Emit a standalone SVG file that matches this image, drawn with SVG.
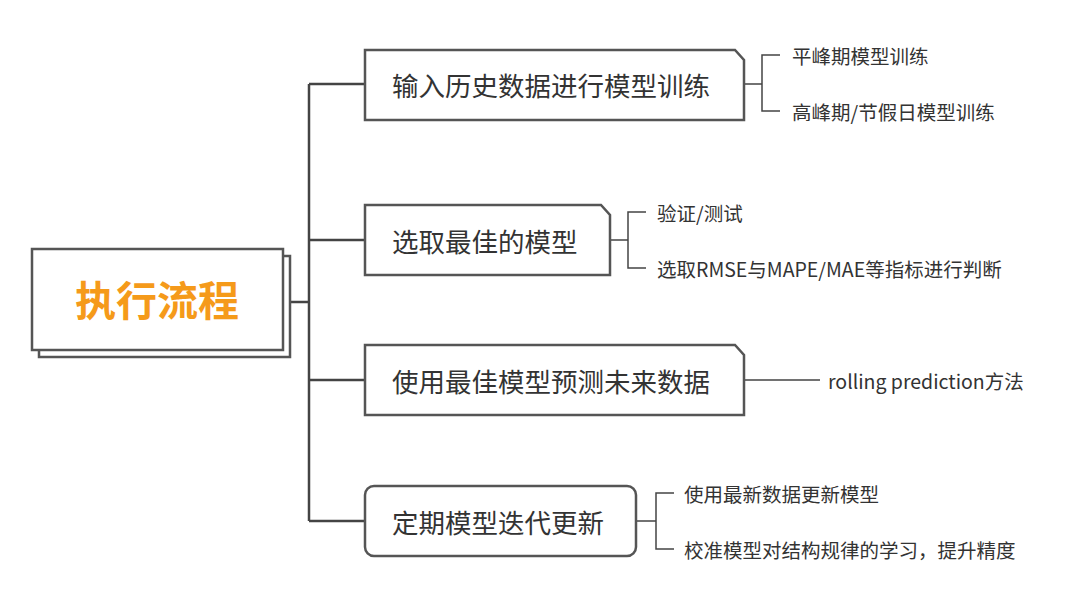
<svg xmlns="http://www.w3.org/2000/svg" width="1080" height="592" viewBox="0 0 1080 592">
<style>
.b{fill:#fff;stroke:#555;stroke-width:2.5}
.l{fill:none;stroke:#444;stroke-width:2.5}
.s{fill:none;stroke:#444;stroke-width:1.5}
.t{font-family:"Noto Sans CJK SC",sans-serif;font-size:26.5px;fill:#333;dominant-baseline:central}
.u{font-family:"Noto Sans CJK SC",sans-serif;font-size:19.5px;fill:#333;dominant-baseline:central}
</style>
<rect width="1080" height="592" fill="#fff"/>
<g id="connectors">
<path class="l" d="M290 302H309M309 84V521M309 84H365M309 240H365M309 380H365M309 521H365"/>
<path class="s" d="M744 84H762M780 55H762V111H780M610 240H628M646 212H628V268H646M744 380H820M636 521H656M674 493H656V549H674"/>
</g>
<g id="root">
<rect class="b" x="39" y="256" width="251" height="101"/>
<rect class="b" x="32" y="249" width="251" height="101"/>
<text x="157" y="298" text-anchor="middle" font-family="Noto Sans CJK SC,sans-serif" font-size="41" font-weight="bold" fill="#f59a1a" dominant-baseline="central">执行流程</text>
</g>
<g id="n1"><path class="b" d="M365 50H735L744 60V120H365Z"/><text class="t" x="392" y="84">输入历史数据进行模型训练</text></g>
<g id="n2"><path class="b" d="M365 205H601L610 215V275H365Z"/><text class="t" x="392" y="240">选取最佳的模型</text></g>
<g id="n3"><path class="b" d="M365 345H735L744 355V415H365Z"/><text class="t" x="392" y="380">使用最佳模型预测未来数据</text></g>
<g id="n4"><rect class="b" x="365" y="486" width="271" height="70" rx="9"/><text class="t" x="392" y="521">定期模型迭代更新</text></g>
<g id="leaves">
<text class="u" x="792" y="55">平峰期模型训练</text>
<text class="u" x="792" y="111">高峰期/节假日模型训练</text>
<text class="u" x="657" y="212">验证/测试</text>
<text class="u" x="657" y="268">选取RMSE与MAPE/MAE等指标进行判断</text>
<text class="u" x="828" y="380">rolling prediction方法</text>
<text class="u" x="684" y="493">使用最新数据更新模型</text>
<text class="u" x="684" y="549">校准模型对结构规律的学习，提升精度</text>
</g>
</svg>
